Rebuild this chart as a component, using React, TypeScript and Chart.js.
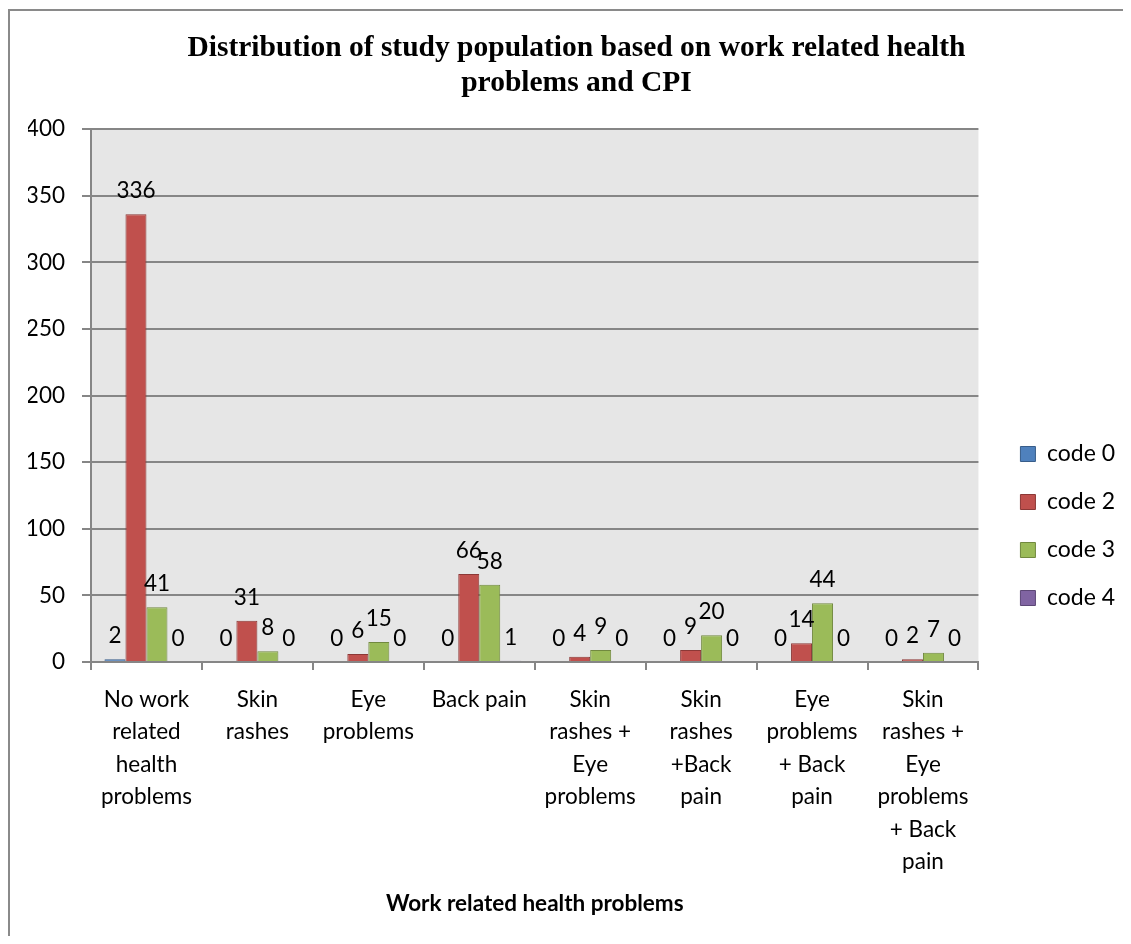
import { useEffect, useRef } from 'react';
import { Chart, registerables } from 'chart.js';

Chart.register(...registerables);

// Category labels, pre-wrapped into lines
const categories: string[][] = [
  ['No work', 'related', 'health', 'problems'],
  ['Skin', 'rashes'],
  ['Eye', 'problems'],
  ['Back pain'],
  ['Skin', 'rashes +', 'Eye', 'problems'],
  ['Skin', 'rashes', '+Back', 'pain'],
  ['Eye', 'problems', '+ Back', 'pain'],
  ['Skin', 'rashes +', 'Eye', 'problems', '+ Back', 'pain'],
];

const seriesNames = ['code 0', 'code 2', 'code 3', 'code 4'];
const code0 = [2, 0, 0, 0, 0, 0, 0, 0];
const code2 = [336, 31, 6, 66, 4, 9, 14, 2];
const code3 = [41, 8, 15, 58, 9, 20, 44, 7];
const code4 = [0, 0, 0, 1, 0, 0, 0, 0];

const yMin = 0;
const yMax = 400;
const yStep = 50;

const titleLines = ['Distribution of study population based on work related health', 'problems and CPI'];
const xTitle = 'Work related health problems';

const fills = ['#4F81BD', '#C0504D', '#9BBB59', '#8064A2'];
const edges = ['#385D8A', '#8C3836', '#71893F', '#5C4776'];

const SANS = "Lato, 'Noto Sans', sans-serif";
const SERIF = "'Liberation Serif', 'Times New Roman', serif";
const GRID = '#868686';

const CANVAS_W = 1133;
const CANVAS_H = 1030;
const SIDE_PAD = 18;

const plotBackground = {
  id: 'plotBackground',
  beforeDraw(chart: any) {
    const { ctx, chartArea } = chart;
    ctx.save();
    ctx.fillStyle = '#E6E6E6';
    ctx.fillRect(chartArea.left, chartArea.top, chartArea.right - chartArea.left, chartArea.bottom - chartArea.top);
    ctx.restore();
  },
};

// Value printed above every bar
const valueLabels = {
  id: 'valueLabels',
  afterDatasetsDraw(chart: any) {
    const { ctx } = chart;
    ctx.save();
    ctx.font = `22.5px ${SANS}`;
    ctx.fillStyle = '#000';
    ctx.textAlign = 'center';
    ctx.textBaseline = 'alphabetic';
    chart.data.datasets.forEach((ds: any, i: number) => {
      const meta = chart.getDatasetMeta(i);
      meta.data.forEach((bar: any, j: number) => {
        ctx.fillText(String(ds.data[j]), bar.x, bar.y - 16);
      });
    });
    ctx.restore();
  },
};

export default function App() {
  const ref = useRef<HTMLCanvasElement | null>(null);

  useEffect(() => {
    if (!ref.current) return;
    const series = [code0, code2, code3, code4];
    const chart = new Chart(ref.current, {
      type: 'bar',
      data: {
        labels: categories,
        datasets: series.map((data, i) => ({
          label: seriesNames[i],
          data,
          backgroundColor: fills[i],
          borderColor: edges[i],
          borderWidth: 1,
          categoryPercentage: 0.757,
          barPercentage: 1,
        })),
      },
      options: {
        responsive: false,
        animation: false,
        layout: { padding: { left: SIDE_PAD, right: SIDE_PAD, top: 0, bottom: 0 } },
        plugins: {
          title: {
            display: true,
            text: titleLines,
            color: '#000',
            font: { family: SERIF, size: 29.5, weight: 'bold', lineHeight: 35 / 29.5 },
            padding: { top: 20, bottom: 28 },
          },
          legend: {
            position: 'right',
            labels: {
              color: '#000',
              font: { family: SANS, size: 23 },
              boxWidth: 15,
              boxHeight: 15,
              padding: 25,
            },
          },
          tooltip: { enabled: false },
        },
        scales: {
          x: {
            grid: {
              display: true,
              drawOnChartArea: false,
              drawTicks: true,
              tickLength: 8,
              color: GRID,
              lineWidth: 2,
            },
            border: { display: true, color: GRID, width: 2 },
            ticks: {
              color: '#000',
              font: { family: SANS, size: 22.5, lineHeight: 32.5 / 22.5 },
              autoSkip: false,
              maxRotation: 0,
              minRotation: 0,
              padding: 13,
            },
            title: {
              display: true,
              text: xTitle,
              color: '#000',
              font: { family: SANS, size: 22.5, weight: 'bold' },
              padding: { top: 0, bottom: 124 },
            },
            afterFit(s: any) {
              s.height = CANVAS_H - 651;
            },
          },
          y: {
            min: yMin,
            max: yMax,
            ticks: {
              stepSize: yStep,
              color: '#000',
              font: { family: SANS, size: 22.5 },
              padding: 17,
            },
            grid: { color: GRID, lineWidth: 2, tickLength: 9 },
            border: { display: true, color: GRID, width: 2 },
            afterFit(s: any) {
              s.width = 81 - SIDE_PAD;
            },
          },
          legendGap: {
            type: 'linear',
            position: 'right',
            display: true,
            grid: { display: false },
            ticks: { display: false },
            border: { display: false },
            afterFit(s: any) {
              s.width = 17;
            },
          },
        },
      },
      plugins: [plotBackground, valueLabels],
    } as any);
    return () => chart.destroy();
  }, []);

  return (
    <div style={{ position: 'relative', width: 1115, height: 928, overflow: 'hidden' }}>
      <div
        style={{
          position: 'absolute',
          left: 0,
          top: 1,
          width: CANVAS_W,
          height: CANVAS_H,
          border: '2px solid #8a8a8a',
          background: '#fff',
        }}
      >
        <canvas ref={ref} width={CANVAS_W} height={CANVAS_H} style={{ display: 'block' }} />
      </div>
    </div>
  );
}
